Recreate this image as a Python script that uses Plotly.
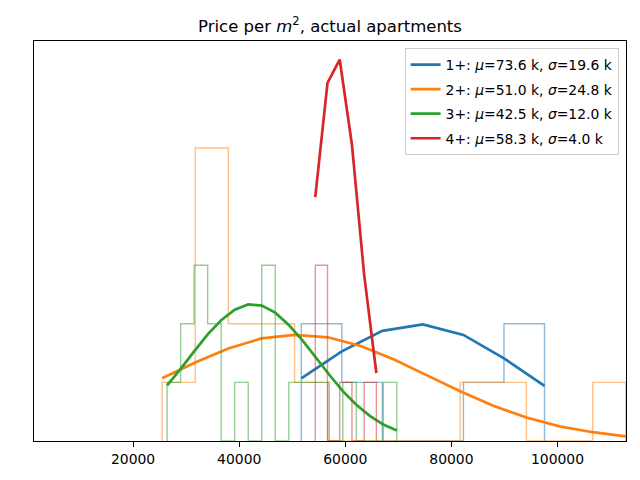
import plotly.graph_objects as go

# ---- data ----
labels = ["1+", "2+", "3+", "4+"]
mu_k = [73.6, 51.0, 42.5, 58.3]
sigma_k = [19.6, 24.8, 12.0, 4.0]
colors = ["#1f77b4", "#ff7f0e", "#2ca02c", "#d62728"]
hist_colors = ["rgba(31,119,180,0.5)", "rgba(255,127,14,0.5)",
               "rgba(44,160,44,0.5)", "rgba(214,39,40,0.5)"]

# histogram bin edges and counts per group
edges_1 = [51698, 59340, 66981, 74623, 82264, 89906, 97547]
counts_1 = [2, 1, 0, 0, 1, 2]

edges_2 = [25470, 31710, 37950, 44200, 50440, 56680, 62920, 69170,
           75410, 81650, 87890, 94130, 100380, 106620, 112860]
counts_2 = [1, 5, 2, 2, 1, 0, 0, 0, 0, 1, 1, 0, 0, 1]

edges_3 = [26415, 28962, 31509, 34056, 36603, 39150, 41697, 44244, 46791,
           49338, 51885, 54432, 56979, 59526, 62073, 64620, 67167, 69714]
counts_3 = [1, 2, 3, 2, 0, 1, 0, 3, 0, 1, 1, 1, 0, 1, 0, 0, 1]

edges_4 = [54340, 56642, 58944, 61246, 63548, 65850]
counts_4 = [3, 0, 1, 0, 1]

# fitted normal curves, evaluated at the bin edges (in count units)
fit_1 = [1.07, 1.53, 1.88, 1.99, 1.81, 1.41, 0.94]
fit_2 = [1.07, 1.34, 1.58, 1.75, 1.81, 1.77, 1.62, 1.39, 1.12, 0.85,
         0.60, 0.40, 0.25, 0.15, 0.08]
fit_3 = [0.95, 1.23, 1.53, 1.82, 2.06, 2.24, 2.33, 2.31, 2.19, 1.98,
         1.72, 1.42, 1.13, 0.85, 0.62, 0.43, 0.28, 0.18]
fit_4 = [4.16, 6.11, 6.51, 5.06, 2.84, 1.16]

x_ticks = [20000, 40000, 60000, 80000, 100000]

edges_all = [edges_1, edges_2, edges_3, edges_4]
counts_all = [counts_1, counts_2, counts_3, counts_4]
fits_all = [fit_1, fit_2, fit_3, fit_4]

fig = go.Figure()
for i in range(4):
    e = edges_all[i]
    c = counts_all[i]
    hx = [e[0]] + e[:-1] + [e[-1]]
    hy = [0] + c + [0]
    fig.add_trace(go.Scatter(
        x=hx, y=hy, mode="lines", line=dict(color=hist_colors[i], width=1.4, shape="hv"),
        showlegend=False, hoverinfo="skip"))
    name = f"{labels[i]}: <i>μ</i>={mu_k[i]:.1f} k, <i>σ</i>={sigma_k[i]:.1f} k"
    fig.add_trace(go.Scatter(
        x=e, y=fits_all[i], mode="lines", line=dict(color=colors[i], width=2.7),
        name=name, legendgroup=labels[i]))

W, H = 632, 472  # page body has an 8px margin in the viewer
fig.update_layout(
    width=W, height=H,
    margin=dict(l=26, r=14, t=33, b=39),
    paper_bgcolor="white", plot_bgcolor="white",
    font=dict(family="DejaVu Sans", size=14, color="black"),
    title=dict(text="Price per <i>m</i><sup>2</sup>, actual apartments",
               x=0.5, xref="paper", xanchor="center",
               y=1 - 18 / H, yanchor="middle",
               font=dict(size=16.5, color="black")),
    legend=dict(x=0.9875, y=0.9825, xanchor="right", yanchor="top",
                bgcolor="rgba(255,255,255,0.8)", bordercolor="#cccccc",
                borderwidth=1, font=dict(size=13.9), itemwidth=30,
                tracegroupgap=3.5, traceorder="grouped"),
)
fig.update_xaxes(range=[1321, 112906], tickmode="array", tickvals=x_ticks,
                 tickformat="d", showline=True, linecolor="black", linewidth=1,
                 mirror=True, ticks="outside", ticklen=5, tickwidth=1,
                 tickcolor="black", showgrid=False, zeroline=False,
                 tickfont=dict(size=13.9))
fig.update_yaxes(range=[0, 6.826], showticklabels=False, ticks="",
                 showline=True, linecolor="black", linewidth=1, mirror=True,
                 showgrid=False, zeroline=False)

fig.write_html("out.html")
